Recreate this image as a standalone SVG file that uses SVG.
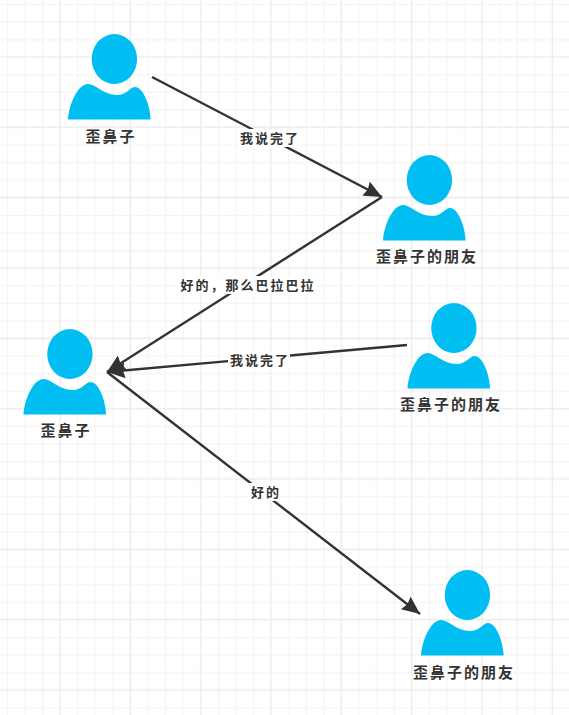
<svg xmlns="http://www.w3.org/2000/svg" width="569" height="715" viewBox="0 0 569 715">
<style>
.name{font:bold 15px "Noto Sans CJK SC","Noto Sans CJK JP",sans-serif;letter-spacing:2px;fill:#333;text-anchor:middle}
.lab{font:bold 13px "Noto Sans CJK SC","Noto Sans CJK JP",sans-serif;letter-spacing:2px;fill:#333;text-anchor:middle}
.edge{stroke:#333;stroke-width:2.4;fill:none;marker-end:url(#arrow)}
.bg{fill:#fff}
.person{fill:#00bef2}
</style>
<defs>
<pattern id="grid" x="7" y="4" width="70.33" height="70.33" patternUnits="userSpaceOnUse">
<path d="M0.5 0V70.33M18 0V70.33M35.7 0V70.33M0 0.5H70.33M0 18H70.33M0 35.7H70.33" stroke="#f4f4f4" stroke-width="1.2" fill="none"/>
<path d="M53 0V70.33M0 53H70.33" stroke="#ebebeb" stroke-width="1.4" fill="none"/>
</pattern>
<marker id="arrow" markerUnits="userSpaceOnUse" markerWidth="22" markerHeight="18" refX="18" refY="8" orient="auto">
<path d="M0 0L18 8L0 16L2 8Z" fill="#333"/>
</marker>
<g id="person" class="person">
<ellipse cx="114.4" cy="59" rx="22.7" ry="25"/>
<path d="M68 119.500C69 104 78 84 88 84C96 84 103 95 117 95C127 95 130 87 135 87C143 87 150 105 150.700 119.500Z"/>
</g>
</defs>
<rect width="569" height="715" fill="#fff"/>
<rect width="569" height="715" fill="url(#grid)"/>
<g id="connectors">
<path class="edge" d="M152 77L382 197"/>
<path class="edge" d="M382 197L107 372"/>
<path class="edge" d="M407 345L107 372"/>
<path class="edge" d="M107 372L420 614"/>
<rect class="bg" x="238" y="129" width="62" height="18"/>
<text class="lab" x="270" y="142.500">我说完了</text>
<rect class="bg" x="177" y="276" width="139" height="18"/>
<text class="lab" x="248" y="289.500">好的，那么巴拉巴拉</text>
<rect class="bg" x="228" y="351" width="62" height="18"/>
<text class="lab" x="260" y="364.500">我说完了</text>
<rect class="bg" x="249" y="483" width="32" height="18"/>
<text class="lab" x="266" y="496.500">好的</text>
</g>
<g id="node1"><use href="#person"/><text class="name" x="111" y="142">歪鼻子</text></g>
<g id="node2"><use href="#person" x="315" y="121"/><text class="name" x="427" y="262">歪鼻子的朋友</text></g>
<g id="node3"><use href="#person" x="-44.500" y="295"/><text class="name" x="66" y="436">歪鼻子</text></g>
<g id="node4"><use href="#person" x="339.500" y="269"/><text class="name" x="451" y="410">歪鼻子的朋友</text></g>
<g id="node5"><use href="#person" x="353" y="536"/><text class="name" x="464" y="678">歪鼻子的朋友</text></g>
</svg>
